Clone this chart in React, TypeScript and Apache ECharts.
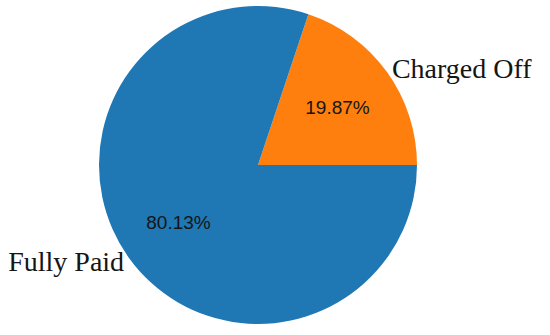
import React, { useEffect, useRef } from "react";
import * as echarts from "echarts";

const categories = ["Charged Off", "Fully Paid"];
const shares = [19.87, 80.13];
const colors = ["#ff7f0e", "#1f77b4"];

export default function App() {
  const ref = useRef<HTMLDivElement>(null);
  useEffect(() => {
    if (!ref.current) return;
    const chart = echarts.init(ref.current, undefined, { renderer: "svg" });
    const startAngle = (shares[0] / (shares[0] + shares[1])) * 360;
    const labelPads = [[0, 0, 4, 0], [8, 0, 0, 0]];
    const data = categories.map((name, i) => ({
      name,
      value: shares[i],
      itemStyle: { color: colors[i] },
      label: { padding: labelPads[i] },
    }));
    chart.setOption({
      animation: false,
      backgroundColor: "#ffffff",
      series: [
        {
          type: "pie",
          center: [258, 165],
          radius: [0, 159],
          startAngle,
          clockwise: true,
          silent: true,
          avoidLabelOverlap: false,
          data,
          label: {
            show: true,
            position: "outside",
            formatter: "{b}",
            fontFamily: "Liberation Serif",
            fontSize: 28,
            color: "#151515",
            distanceToLabelLine: 0,
            bleedMargin: 0,
            overflow: "none",
          },
          labelLine: { show: false, length: 6, length2: 0 },
          emphasis: { disabled: true },
        },
        {
          type: "pie",
          center: [258, 165],
          radius: [0, 190],
          startAngle,
          clockwise: true,
          silent: true,
          avoidLabelOverlap: false,
          data: categories.map((name, i) => ({ name, value: shares[i], itemStyle: { color: "rgba(0,0,0,0)" } })),
          label: {
            show: true,
            position: "inside",
            formatter: (p: any) => p.value.toFixed(2) + "%",
            fontFamily: "Liberation Sans",
            fontSize: 19,
            color: "#151515",
          },
          labelLine: { show: false },
          emphasis: { disabled: true },
        },
      ],
    });
    return () => chart.dispose();
  }, []);
  return <div ref={ref} style={{ position: "fixed", left: 0, top: 0, width: 550, height: 335 }} />;
}
